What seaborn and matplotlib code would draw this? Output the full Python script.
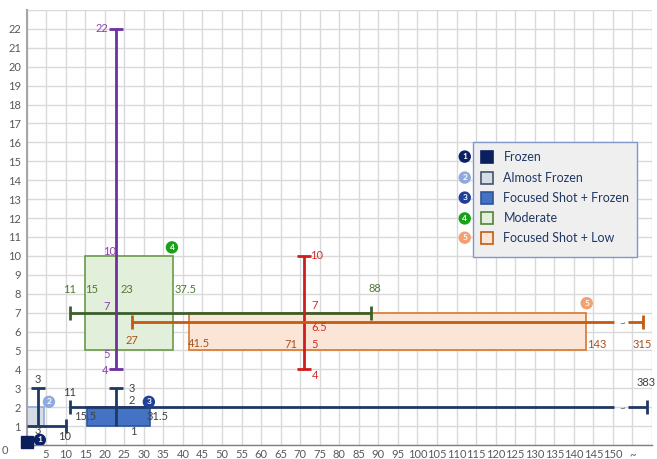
import numpy as np
import pandas as pd
import seaborn as sns
import matplotlib.pyplot as plt

# --- DATA ---
LEGEND_NAMES = ["Frozen", "Almost Frozen", "Focused Shot + Frozen", "Moderate", "Focused Shot + Low"]
LEGEND_FILL = ["#0a1f5c", "#d6dce5", "#4472c4", "#e2efda", "#fbe5d6"]
LEGEND_EDGE = ["#0a1f5c", "#44546a", "#2f5597", "#548235", "#c55a11"]
BADGE_COLORS = ["#0b2165", "#8faadc", "#1f3f99", "#18a218", "#f4a070"]

# boxes (Almost Frozen, Focused Shot + Frozen, Moderate, Focused Shot + Low)
BOX_X0 = [0, 15.5, 15, 41.5]
BOX_X1 = [4.5, 31.5, 37.5, 143]
BOX_Y0 = [1, 1, 5, 5]
BOX_Y1 = [2, 2, 10, 7]
BOX_FILL = ["#d6dce5", "#4472c4", "#e2efda", "#fbe5d6"]
BOX_EDGE = ["#8faadc", "#2f5597", "#6a9a4a", "#d9772b"]

# whisker lines: orientation, fixed coord, start, end, caps at start/end
LINE_ORIENT = ["v", "h", "v", "h", "h", "v", "v", "h"]
LINE_FIXED = [3, 1, 23, 2, 7, 23, 71, 6.5]
LINE_START = [1, 0, 1, 11, 11, 4, 4, 27]
LINE_END = [3, 10, 3, 383, 88, 22, 10, 315]
LINE_CAP0 = [False, False, False, True, True, True, True, True]
LINE_CAP1 = [True, True, True, True, True, True, True, True]
LINE_COLOR = ["#1f3864", "#1f3864", "#1f3864", "#1f3864", "#3d5e2a", "#7030a0", "#d01c1c", "#c55a11"]

# values beyond the axis break and where they sit after the "~"
BREAK_POS = {383: 158.8, 315: 157.8}

# value labels: text, x, y, colour
LAB_TEXT = ["3", "3", "10", "11", "15.5", "31.5", "3", "2", "1", "383",
            "11", "15", "23", "37.5", "88",
            "22", "10", "7", "5", "4",
            "10", "7", "6.5", "5", "4",
            "71", "27", "41.5", "143", "315"]
LAB_X = [2.8, 2.8, 9.8, 10.9, 15.0, 33.6, 26.8, 26.8, 27.2, 158.4,
         10.9, 16.6, 25.6, 40.6, 89.0,
         19.3, 21.2, 20.6, 20.6, 20.0,
         74.2, 73.8, 74.8, 73.8, 73.8,
         67.6, 26.9, 44.0, 145.8, 157.6]
LAB_Y = [3.45, 0.78, 0.45, 2.75, 1.5, 1.5, 3.0, 2.35, 0.7, 3.3,
         8.2, 8.2, 8.2, 8.2, 8.25,
         22.0, 10.25, 7.3, 4.8, 3.95,
         10.0, 7.35, 6.2, 5.3, 3.65,
         5.3, 5.5, 5.35, 5.3, 5.3]
LAB_COLOR = ["#404040"] * 10 + ["#4e7a32"] * 5 + ["#8e3fb3"] * 5 + ["#d62828"] * 5 + ["#a9501e"] * 5

# badges on the plot: number, x, y
BADGE_NUM = ["1", "2", "3", "4", "5"]
BADGE_X = [3.4, 5.75, 31.3, 37.2, 143.3]
BADGE_Y = [0.27, 2.28, 2.28, 10.45, 7.5]

XTICKS = list(range(0, 165, 5))
XTICK_LABELS = [""] + [str(v) for v in range(5, 155, 5)] + ["~", ""]
YTICKS = list(range(0, 24))
YTICK_LABELS = [""] + [str(v) for v in range(1, 23)] + [""]

# legend rows (data coords)
LEG_ROW_Y = [15.25, 14.14, 13.08, 11.98, 10.96]

sns.set_theme(style="whitegrid")
plt.rcParams['font.family'] = ['Lato', 'DejaVu Sans']

fig = plt.figure(figsize=(6.57, 4.59), dpi=100)
ax = fig.add_axes([26.5 / 657, 14 / 459, 625.5 / 657, 435 / 459])
ax.set_xlim(0, 160)
ax.set_ylim(0, 23)


def pos(v):
    return BREAK_POS.get(v, v)


# boxes
boxes = pd.DataFrame({"x0": BOX_X0, "x1": BOX_X1, "y0": BOX_Y0, "y1": BOX_Y1})
ax.barh(y=(boxes.y0 + boxes.y1) / 2, width=boxes.x1 - boxes.x0, left=boxes.x0,
        height=boxes.y1 - boxes.y0, color=BOX_FILL, edgecolor=BOX_EDGE, linewidth=1.2, zorder=2)

# whiskers
for o, f, s, e, c0, c1, col in zip(LINE_ORIENT, LINE_FIXED, LINE_START, LINE_END,
                                    LINE_CAP0, LINE_CAP1, LINE_COLOR):
    cap_marker = "_" if o == "v" else "|"
    if e > 150:
        segs = [(s, 150.3), (153.9, pos(e))]
        ax.text(152.5, f - 0.1, "~", ha="center", va="center", fontsize=7, color="#606060", zorder=4)
    else:
        segs = [(s, e)]
    for a, b in segs:
        if o == "v":
            ax.plot([f, f], [a, b], color=col, lw=2, zorder=3, solid_capstyle="butt")
        else:
            ax.plot([a, b], [f, f], color=col, lw=2, zorder=3, solid_capstyle="butt")
    ends = []
    if c0:
        ends.append(s)
    if c1:
        ends.append(pos(e))
    for v in ends:
        xy = (f, v) if o == "v" else (v, f)
        ax.plot(*xy, marker=cap_marker, markersize=10, mew=2, color=col, zorder=3, clip_on=False)

# frozen marker at the origin
ax.plot(0, 0.15, marker="s", markersize=8, color=LEGEND_FILL[0], zorder=5, clip_on=False)

# value labels
for t, x, y, c in zip(LAB_TEXT, LAB_X, LAB_Y, LAB_COLOR):
    ax.text(x, y, t, ha="center", va="center", fontsize=8, color=c, zorder=6)

# badges
sns.scatterplot(x=BADGE_X, y=BADGE_Y, hue=BADGE_NUM, palette=BADGE_COLORS, s=80,
                edgecolor="none", legend=False, zorder=7, ax=ax)
for n, x, y in zip(BADGE_NUM, BADGE_X, BADGE_Y):
    ax.text(x, y, n, ha="center", va="center", fontsize=6, fontweight="bold", color="white", zorder=8)

# legend box drawn by hand so badges sit next to rows
ax.add_patch(plt.Rectangle((114.2, 9.92), 41.9, 6.09, facecolor="#efefef",
                           edgecolor="#7f98c8", linewidth=1, zorder=9))
for i, name in enumerate(LEGEND_NAMES):
    y = LEG_ROW_Y[i]
    ax.plot(117.8, y, marker="s", markersize=9, color=LEGEND_FILL[i],
            markeredgecolor=LEGEND_EDGE[i], mew=1.2, zorder=10)
    ax.text(122.0, y, name, ha="left", va="center", fontsize=9, color="#1f3864", zorder=10)
    ax.scatter(112.1, y, s=80, color=BADGE_COLORS[i], edgecolor="none", zorder=10, clip_on=False)
    ax.text(112.1, y, BADGE_NUM[i], ha="center", va="center", fontsize=6,
            fontweight="bold", color="white", zorder=11)

# axes styling
ax.set_xticks(XTICKS)
ax.set_xticklabels(XTICK_LABELS)
ax.set_yticks(YTICKS)
ax.set_yticklabels(YTICK_LABELS)
ax.tick_params(axis="both", length=0, labelsize=8, colors="#595959")
ax.tick_params(axis="x", pad=3)
ax.tick_params(axis="y", pad=4)
ax.grid(True, color="#d9d9d9", linewidth=1)
ax.set_facecolor("white")
for side in ["top", "right"]:
    ax.spines[side].set_visible(False)
ax.spines["left"].set_color("#a6a6a6")
ax.spines["left"].set_linewidth(1.5)
ax.spines["bottom"].set_color("#7f7f7f")
ax.spines["bottom"].set_linewidth(1)
ax.text(-5.6, -0.3, "0", ha="center", va="center", fontsize=8, color="#595959", clip_on=False)

fig.savefig("out.png", dpi=100)
